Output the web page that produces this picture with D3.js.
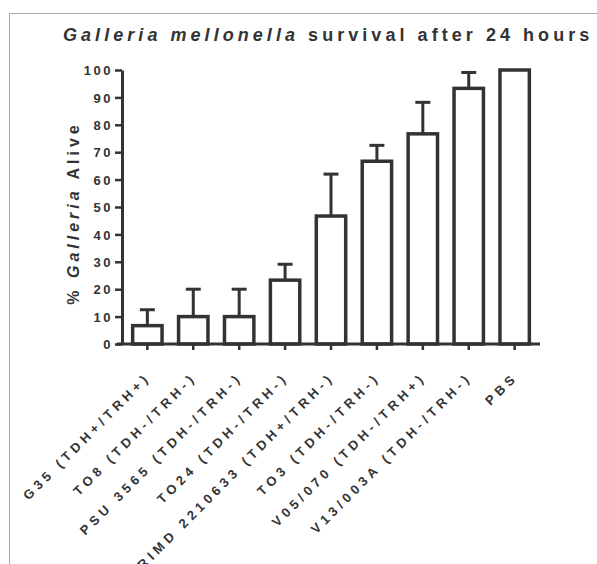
<!DOCTYPE html>
<html>
<head>
<meta charset="utf-8">
<script src="https://cdn.jsdelivr.net/npm/d3@7"></script>
<style>
html,body{margin:0;padding:0;background:#fff;}
svg{display:block;}
text{font-family:"Liberation Sans",Arial,Helvetica,sans-serif;font-weight:bold;fill:#333;}
</style>
</head>
<body>
<svg id="chart" width="597" height="564"></svg>
<script>
const categories = ["G35 (TDH+/TRH+)","TO8 (TDH-/TRH-)","PSU 3565 (TDH-/TRH-)","TO24 (TDH-/TRH-)","RIMD 2210633 (TDH+/TRH-)","TO3 (TDH-/TRH-)","V05/070 (TDH-/TRH+)","V13/003A (TDH-/TRH-)","PBS"];
const means = [6.7, 10, 10, 23.3, 46.7, 66.7, 76.7, 93.3, 100];
const sds = [5.8, 10, 10, 5.8, 15.3, 5.8, 11.5, 5.8, 0];
const yTicks = [0,10,20,30,40,50,60,70,80,90,100];

const svg = d3.select("#chart");
const ink = "#333";

// frame
svg.append("line").attr("x1",9.5).attr("x2",597).attr("y1",13.5).attr("y2",13.5).attr("stroke","#aaa").attr("stroke-width",1);
svg.append("line").attr("x1",9.5).attr("x2",9.5).attr("y1",13.5).attr("y2",564).attr("stroke","#aaa").attr("stroke-width",1);

const y = d3.scaleLinear().domain([0,100]).range([344,70]);
const x = d3.scaleBand().domain(categories).range([124.4,537.6]).paddingInner(0.36).paddingOuter(0.18);

// title
const title = svg.append("text").attr("x",63).attr("y",41).attr("font-size",18).style("letter-spacing","4.05px");
title.append("tspan").attr("font-style","italic").text("Galleria mellonella");
title.append("tspan").text(" survival after 24 hours");

// y label
const yl = svg.append("text").attr("transform","translate(79,213) rotate(-90)").attr("text-anchor","middle").attr("font-size",16).style("letter-spacing","4px");
yl.append("tspan").text("% ");
yl.append("tspan").attr("font-style","italic").text("Galleria");
yl.append("tspan").text(" Alive");

// bars
const g = svg.append("g");
g.selectAll("rect.bar").data(categories).join("rect")
  .attr("x", d => x(d))
  .attr("width", x.bandwidth())
  .attr("y", (d,i) => y(means[i]))
  .attr("height", (d,i) => y(0) - y(means[i]))
  .attr("fill","#fff").attr("stroke",ink).attr("stroke-width",3.5);

// error bars (upper)
categories.forEach((c,i) => {
  if (!sds[i]) return;
  const cx = x(c) + x.bandwidth()/2;
  g.append("line").attr("x1",cx).attr("x2",cx).attr("y1",y(means[i])).attr("y2",y(means[i]+sds[i])).attr("stroke",ink).attr("stroke-width",3);
  g.append("line").attr("x1",cx-7.5).attr("x2",cx+7.5).attr("y1",y(means[i]+sds[i])).attr("y2",y(means[i]+sds[i])).attr("stroke",ink).attr("stroke-width",3);
});

// y axis
const yAxis = svg.append("g").attr("transform","translate(122,0)")
  .call(d3.axisLeft(y).tickValues(yTicks).tickSize(7).tickPadding(2).tickSizeOuter(0));
yAxis.select(".domain").attr("stroke",ink).attr("stroke-width",3);
yAxis.selectAll(".tick line").attr("stroke",ink).attr("stroke-width",2.5);
yAxis.selectAll(".tick text").attr("font-size",13).attr("font-family",null).style("letter-spacing","2.5px").attr("fill",ink).attr("dy","0.36em");

// x axis
svg.append("line").attr("x1",117).attr("x2",540).attr("y1",344).attr("y2",344).attr("stroke",ink).attr("stroke-width",3);
const xAxis = svg.append("g").attr("transform","translate(0,344)")
  .call(d3.axisBottom(x).tickSize(6).tickSizeOuter(0));
xAxis.select(".domain").remove();
xAxis.selectAll(".tick line").attr("stroke",ink).attr("stroke-width",2.5);
xAxis.selectAll(".tick text")
  .attr("font-size",13).attr("font-family",null).style("letter-spacing","4.3px").attr("fill",ink)
  .attr("text-anchor","end").attr("x",0).attr("y",0).attr("dy",0)
  .attr("transform","translate(4,34) rotate(-45)");
</script>
</body>
</html>
